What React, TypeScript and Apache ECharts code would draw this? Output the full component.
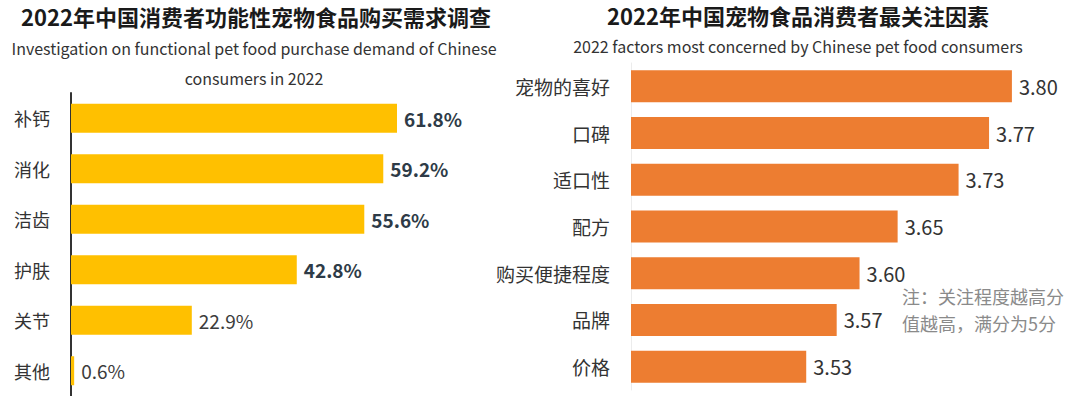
import React, { useEffect, useRef } from "react";
import * as echarts from "echarts";

const leftCategories = ["补钙", "消化", "洁齿", "护肤", "关节", "其他"];
const leftValues = [61.8, 59.2, 55.6, 42.8, 22.9, 0.6];

const rightCategories = ["宠物的喜好", "口碑", "适口性", "配方", "购买便捷程度", "品牌", "价格"];
const rightValues = [3.8, 3.77, 3.73, 3.65, 3.6, 3.57, 3.53];

const leftTitle = "2022年中国消费者功能性宠物食品购买需求调查";
const leftSubtitle = "Investigation on functional pet food purchase demand of Chinese\nconsumers in 2022";
const rightTitle = "2022年中国宠物食品消费者最关注因素";
const rightSubtitle = "2022 factors most concerned by Chinese pet food consumers";
const noteLines = ["注：关注程度越高分", "值越高，满分为5分"];

const FONT = '"Noto Sans CJK SC", "Noto Sans", sans-serif';

export default function App() {
  const ref = useRef<HTMLDivElement>(null);
  useEffect(() => {
    if (!ref.current) return;
    const chart = echarts.init(ref.current, null, { renderer: "svg" });
    chart.setOption({
      animation: false,
      backgroundColor: "#ffffff",
      textStyle: { fontFamily: FONT },
      grid: [
        { left: 71, top: 93, width: 422, height: 303, containLabel: false },
        { left: 631, top: 63, width: 419, height: 327, containLabel: false },
      ],
      xAxis: [
        { type: "value", gridIndex: 0, min: 0, max: 80, show: false },
        { type: "value", gridIndex: 1, min: 3.3, max: 3.85, show: false },
      ],
      yAxis: [
        {
          type: "category",
          gridIndex: 0,
          inverse: true,
          data: leftCategories,
          axisLine: { show: true, lineStyle: { color: "#333333", width: 2 } },
          axisTick: { show: false },
          axisLabel: { fontSize: 18, color: "#333333", margin: 21, fontFamily: FONT },
        },
        {
          type: "category",
          gridIndex: 1,
          inverse: true,
          data: rightCategories,
          axisLine: { show: true, lineStyle: { color: "#ececec", width: 1 } },
          axisTick: { show: false },
          axisLabel: { fontSize: 19, color: "#333333", margin: 21, fontFamily: FONT },
        },
      ],
      series: [
        {
          type: "bar",
          xAxisIndex: 0,
          yAxisIndex: 0,
          barWidth: 29,
          itemStyle: { color: "#FFC000" },
          data: leftValues.map((v, i) => ({
            value: v,
            label: {
              fontWeight: i < 4 ? "bold" : "normal",
              color: i < 4 ? "#2e3b47" : "#3c3c3c",
            },
          })),
          label: {
            show: true,
            position: "right",
            distance: 7,
            fontSize: 19,
            fontFamily: FONT,
            formatter: (p: any) => p.value.toFixed(1) + "%",
          },
        },
        {
          type: "bar",
          xAxisIndex: 1,
          yAxisIndex: 1,
          barWidth: 32,
          itemStyle: { color: "#ED7D31" },
          data: rightValues,
          label: {
            show: true,
            position: "right",
            distance: 7,
            fontSize: 20,
            color: "#333333",
            fontFamily: FONT,
            formatter: (p: any) => p.value.toFixed(2),
          },
        },
      ],
      graphic: [
        {
          type: "text",
          x: 256,
          y: 16,
          style: {
            text: leftTitle,
            fontSize: 22,
            fontWeight: "bold",
            fill: "#1a1a1a",
            fontFamily: FONT,
            align: "center",
            verticalAlign: "middle",
          },
        },
        {
          type: "text",
          x: 254,
          y: 63,
          style: {
            text: leftSubtitle,
            fontSize: 16,
            lineHeight: 30,
            fill: "#333333",
            fontFamily: FONT,
            align: "center",
            verticalAlign: "middle",
          },
        },
        {
          type: "text",
          x: 798,
          y: 15,
          style: {
            text: rightTitle,
            fontSize: 22,
            fontWeight: "bold",
            fill: "#1a1a1a",
            fontFamily: FONT,
            align: "center",
            verticalAlign: "middle",
          },
        },
        {
          type: "text",
          x: 798,
          y: 46,
          style: {
            text: rightSubtitle,
            fontSize: 16,
            fill: "#333333",
            fontFamily: FONT,
            align: "center",
            verticalAlign: "middle",
          },
        },
        ...noteLines.map((line, i) => ({
          type: "text",
          x: 902,
          y: 296 + i * 27,
          style: {
            text: line,
            fontSize: 18,
            lineHeight: 20,
            fill: "#8a8a8a",
            fontFamily: FONT,
            align: "left",
            verticalAlign: "middle",
          },
        })),
      ],
    });
    return () => chart.dispose();
  }, []);
  return <div ref={ref} style={{ width: 1080, height: 396, position: "absolute", left: 0, top: 0 }} />;
}
